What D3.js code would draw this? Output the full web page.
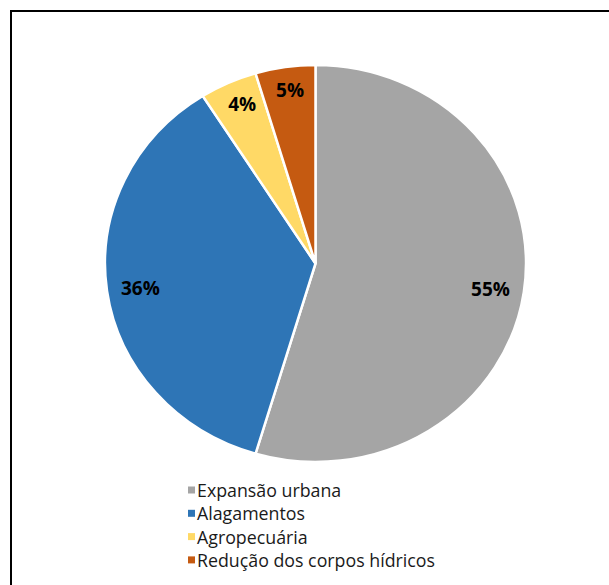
<!DOCTYPE html>
<html>
<head>
<meta charset="utf-8">
<script src="https://cdn.jsdelivr.net/npm/d3@7"></script>
<style>
  html, body { margin: 0; padding: 0; background: #fff; }
  svg { display: block; }
</style>
</head>
<body>
<svg id="chart" width="609" height="585"></svg>
<script>
const categories = ["Expansão urbana", "Alagamentos", "Agropecuária", "Redução dos corpos hídricos"];
const values = [54.6, 36.4, 4.4, 4.6];
const labels = ["55%", "36%", "4%", "5%"];
const colors = ["#A5A5A5", "#2E75B6", "#FFD966", "#C55A11"];

const svg = d3.select("#chart");
const W = 609, H = 585;

// frame (top and left edges visible)
svg.append("line").attr("x1", 10).attr("y1", 11).attr("x2", W).attr("y2", 11)
  .attr("stroke", "#000").attr("stroke-width", 2);
svg.append("line").attr("x1", 11).attr("y1", 10).attr("x2", 11).attr("y2", H)
  .attr("stroke", "#000").attr("stroke-width", 2);

const cx = 315.5, cy = 263.5, rx = 210.5, ry = 198.5;
const sy = ry / rx;

const pie = d3.pie().value(d => d).sort(null);
const arcs = pie(values);
const arc = d3.arc().innerRadius(0).outerRadius(rx);

const g = svg.append("g").attr("transform", `translate(${cx},${cy}) scale(1,${sy})`);
g.selectAll("path").data(arcs).enter().append("path")
  .attr("d", arc)
  .attr("fill", (d, i) => colors[i])
  .attr("stroke", "#fff")
  .attr("stroke-width", 2.5)
  .attr("vector-effect", "non-scaling-stroke");

const labelArc = d3.arc().innerRadius(1).outerRadius(1);
svg.append("g").selectAll("text").data(arcs).enter().append("text")
  .attr("x", d => cx + labelArc.centroid(d)[0] * rx * 0.84)
  .attr("y", d => cy + labelArc.centroid(d)[1] * ry * 0.885)
  .attr("text-anchor", "middle")
  .attr("dominant-baseline", "central")
  .attr("font-family", "'Open Sans', sans-serif")
  .attr("font-weight", "bold")
  .attr("font-size", 19)
  .attr("fill", "#000")
  .text((d, i) => labels[i]);

// legend
const lg = svg.append("g").attr("transform", "translate(188,490)");
const rows = lg.selectAll("g").data(categories).enter().append("g")
  .attr("transform", (d, i) => `translate(0,${i * 23.3})`);
rows.append("rect").attr("x", 0).attr("y", -3.5).attr("width", 7).attr("height", 7)
  .attr("fill", (d, i) => colors[i]);
rows.append("text").attr("x", 9).attr("y", 0)
  .attr("dominant-baseline", "central")
  .attr("font-family", "'Open Sans', sans-serif")
  .attr("font-size", 17.8)
  .attr("fill", "#1a1a1a")
  .text(d => d);
</script>
</body>
</html>
